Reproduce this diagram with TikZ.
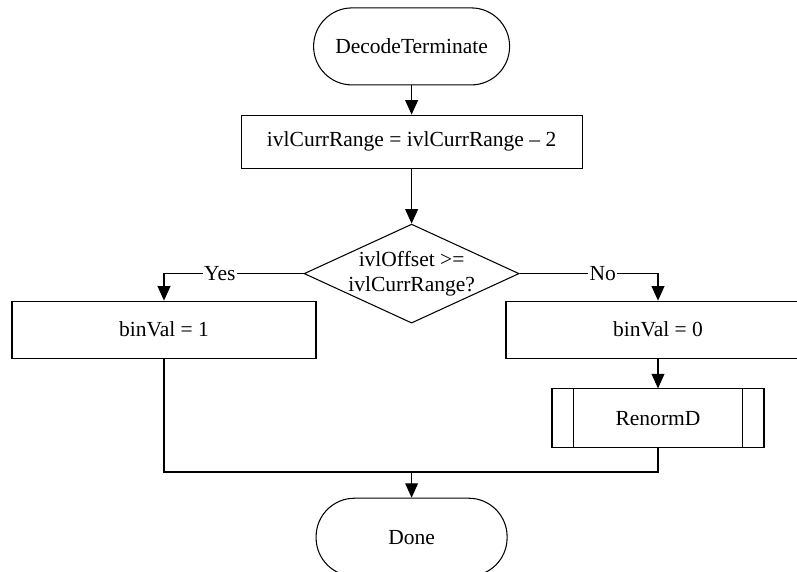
\documentclass[tikz,border=0pt]{standalone}
\usepackage{fontspec}
\setmainfont{Liberation Serif}
\usetikzlibrary{shapes.geometric,arrows.meta}
\tikzset{
    term/.style={draw, rectangle, rounded corners=0.96cm, minimum width=4.9cm, minimum height=1.925cm},
    proc/.style={draw, rectangle, minimum height=1.425cm},
    decision/.style={draw, diamond, aspect=2.17, inner sep=-3pt, minimum width=5.375cm, minimum height=2.475cm, align=center},
    flow/.style={-{Triangle[length=0.36cm,width=0.32cm]}},
    lbl/.style={fill=white, inner sep=1pt}
}
\begin{document}
\begin{tikzpicture}[line width=0.75pt, font=\fontsize{15.3}{18}\selectfont]
    \clip (0,0) rectangle (19.925,-14.275);
    \node[term] (start) at (10.29,-1.16) {DecodeTerminate};
    \node[proc, minimum width=8.525cm, minimum height=1.325cm] (dec) at (10.29,-3.54) {ivlCurrRange = ivlCurrRange -- 2};
    \node[decision] (cond) at (10.29,-6.84) {ivlOffset >=\\ivlCurrRange?};
    \node[proc, minimum width=7.6cm] (one) at (4.1,-8.24) {binVal = 1};
    \node[proc, minimum width=7.6cm] (zero) at (16.45,-8.24) {binVal = 0};
    \node[proc, minimum width=5.3cm, minimum height=1.475cm] (renorm) at (16.45,-10.46) {RenormD};
    \draw ([xshift=0.55cm]renorm.north west) -- ([xshift=0.55cm]renorm.south west);
    \draw ([xshift=-0.55cm]renorm.north east) -- ([xshift=-0.55cm]renorm.south east);
    \node[term, minimum width=4.775cm, minimum height=1.95cm] (done) at (10.29,-13.43) {Done};
    \coordinate (join) at (10.29,-11.8);
    \draw[flow] (start) -- (dec);
    \draw[flow] (dec) -- (cond);
    \draw[flow] (cond.west) -- node[lbl, pos=0.6]{Yes} (cond.west -| one.north) -- (one);
    \draw[flow] (cond.east) -- node[lbl, pos=0.6]{No} (cond.east -| zero.north) -- (zero);
    \draw[flow] (zero) -- (renorm);
    \draw (one.south) -- (one.south |- join) -- (renorm.south |- join) -- (renorm.south);
    \draw[flow] (join) -- (done);
\end{tikzpicture}
\end{document}
